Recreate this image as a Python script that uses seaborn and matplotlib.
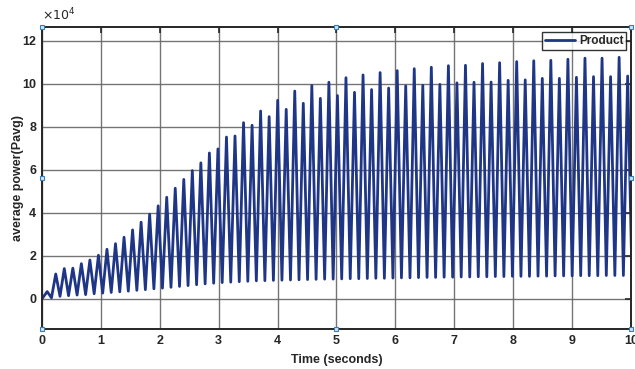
import numpy as np
import pandas as pd
import matplotlib
matplotlib.use("Agg")
import matplotlib.pyplot as plt
import seaborn as sns

# ---- data (values in units of 1e4) ----
first_peak_time = 0.09      # s
cycle_period = 0.1449       # s (spacing between successive peaks)

peaks_e4 = [0.34, 1.16, 1.41, 1.43, 1.64, 1.81, 2.03, 2.31, 2.57, 2.87,
            3.21, 3.57, 3.94, 4.33, 4.73, 5.15, 5.56, 5.97, 6.33, 6.79,
            6.98, 7.53, 7.58, 8.20, 8.08, 8.74, 8.48, 9.24, 8.82, 9.67,
            9.10, 9.93, 9.33, 10.08, 9.46, 10.29, 9.61, 10.42, 9.74, 10.53,
            9.81, 10.62, 9.91, 10.71, 9.94, 10.78, 9.98, 10.85, 10.05, 10.87,
            10.08, 10.95, 10.09, 10.99, 10.17, 11.04, 10.19, 11.08, 10.26, 11.10,
            10.26, 11.15, 10.31, 11.20, 10.34, 11.20, 10.34, 11.24, 10.37]

troughs_e4 = [0.05, 0.12, 0.15, 0.18, 0.20, 0.24, 0.27, 0.30, 0.33, 0.36,
              0.40, 0.43, 0.47, 0.50, 0.54, 0.58, 0.62, 0.66, 0.70, 0.73,
              0.76, 0.78, 0.80, 0.82, 0.84, 0.85, 0.86, 0.87, 0.88, 0.89,
              0.90, 0.91, 0.92, 0.92, 0.93, 0.94, 0.94, 0.95, 0.96, 0.96,
              0.97, 0.98, 0.98, 0.99, 1.00, 1.00, 1.01, 1.01, 1.02, 1.02,
              1.03, 1.03, 1.04, 1.04, 1.05, 1.05, 1.05, 1.06, 1.06, 1.07,
              1.07, 1.07, 1.08, 1.08, 1.08, 1.09, 1.09, 1.09, 1.10]

start_value_e4 = 0.0
x_ticks = [0, 1, 2, 3, 4, 5, 6, 7, 8, 9, 10]
y_ticks = [0, 2, 4, 6, 8, 10, 12]

# ---- assemble the polyline: start, then peak / trough alternating ----
times = [0.0]
vals = [start_value_e4]
for k, (p, tr) in enumerate(zip(peaks_e4, troughs_e4)):
    tp = first_peak_time + k * cycle_period
    times += [tp, tp + cycle_period / 2]
    vals += [p, tr]
df = pd.DataFrame({"Time": times, "Pavg": vals, "series": "Product"})

sns.set_style("white")
plt.rcParams["font.family"] = ["Arial", "Liberation Sans", "DejaVu Sans"]

fig = plt.figure(figsize=(6.35, 3.69), dpi=100)
ax = fig.add_axes([0.066, 0.1084, 0.9277, 0.8184])

line_color = "#1f3687"
sns.lineplot(data=df, x="Time", y="Pavg", hue="series", palette=[line_color],
             sort=False, estimator=None, linewidth=2.0, ax=ax)

ax.set_xlim(0, 10)
ax.set_ylim(-1.4, 12.65)
ax.set_xticks(x_ticks)
ax.set_yticks(y_ticks)
ax.set_xticklabels([str(v) for v in x_ticks], fontsize=9, fontweight="bold",
                   color="#262626")
ax.set_yticklabels([str(v) for v in y_ticks], fontsize=9, fontweight="bold",
                   color="#262626")
ax.grid(True, color="#666666", linewidth=1.0, alpha=0.9)
ax.set_axisbelow(True)
ax.tick_params(direction="in", length=4, width=1.2, top=True, right=True,
               colors="#262626", pad=4)
for s in ax.spines.values():
    s.set_color("#262626")
    s.set_linewidth(1.4)

ax.set_xlabel("Time (seconds)", fontsize=9, fontweight="bold", color="#262626",
              labelpad=5)
ax.set_ylabel("average power(Pavg)", fontsize=9, fontweight="bold",
              color="#262626", labelpad=-1)

ax.text(0.0, 1.012, r"$\times10^{4}$", transform=ax.transAxes, fontsize=9,
        color="#262626", ha="left", va="bottom")

leg = ax.legend(loc="upper right", frameon=True, fancybox=False,
                edgecolor="black", fontsize=8.5, handlelength=2.6,
                borderpad=0.25, borderaxespad=0.4, handletextpad=0.3)
leg.get_frame().set_linewidth(1.0)
for t in leg.get_texts():
    t.set_fontweight("bold")

# selection handles on the axes box
hx = [0, 0.5, 1, 0, 1, 0, 0.5, 1]
hy = [1, 1, 1, 0.5, 0.5, 0, 0, 0]
ax.plot(hx, hy, linestyle="none", marker="s", markersize=3.5,
        markerfacecolor="#cfe6f5", markeredgecolor="#3a7cb8",
        markeredgewidth=0.8, transform=ax.transAxes, clip_on=False, zorder=10)

fig.savefig("out.png", dpi=100)
